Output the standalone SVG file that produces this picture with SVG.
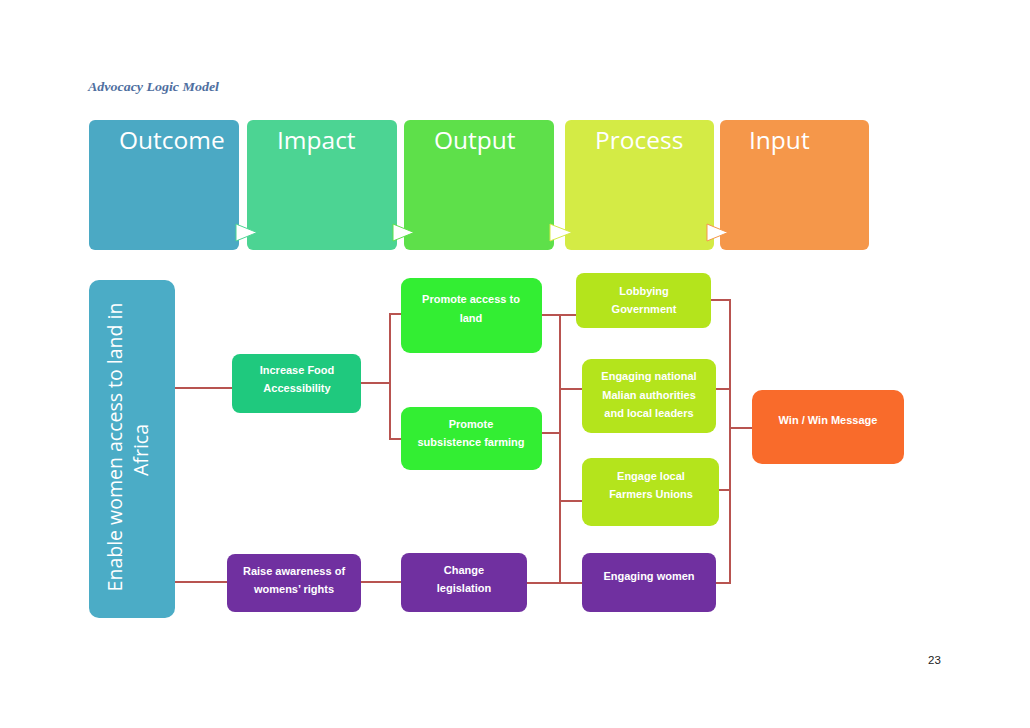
<svg xmlns="http://www.w3.org/2000/svg" width="1030" height="728" viewBox="0 0 1030 728">
<style>
.hdr{font-family:"Open Sans","DejaVu Sans",sans-serif;font-size:24.5px;fill:#fff}
.lbl{font-family:"Liberation Sans","Noto Sans",sans-serif;font-size:11px;font-weight:bold;fill:#fff;text-anchor:middle}
.con{fill:none;stroke:#B85450;stroke-width:2}
.tri{fill:#fff;stroke-width:1}
</style>
<rect width="1030" height="728" fill="#fff"/>
<text x="88" y="91" font-family="'Liberation Serif','DejaVu Serif',serif" font-size="13" font-style="italic" font-weight="bold" fill="#4F6FA0" textLength="131" lengthAdjust="spacingAndGlyphs">Advocacy Logic Model</text>

<g id="hdr-outcome"><rect x="89" y="120" width="150" height="130" rx="6" fill="#4BA9C4"/><text class="hdr" x="119" y="149">Outcome</text></g>
<g id="hdr-impact"><rect x="247" y="120" width="150" height="130" rx="6" fill="#4CD493"/><text class="hdr" x="277" y="149">Impact</text></g>
<g id="hdr-output"><rect x="404" y="120" width="150" height="130" rx="6" fill="#5EE04A"/><text class="hdr" x="434" y="149">Output</text></g>
<g id="hdr-process"><rect x="565" y="120" width="149" height="130" rx="6" fill="#D4EB45"/><text class="hdr" x="595" y="149">Process</text></g>
<g id="hdr-input"><rect x="720" y="120" width="149" height="130" rx="6" fill="#F5974A"/><text class="hdr" x="749" y="149">Input</text></g>
<g id="hdr-arrows">
<polygon class="tri" stroke="#4CD493" points="236,224 257,232.5 236,241"/>
<polygon class="tri" stroke="#5EE04A" points="393,224 414,232.5 393,241"/>
<polygon class="tri" stroke="#D4EB45" points="550,224 572,232.5 550,241"/>
<polygon class="tri" stroke="#F5974A" points="707,224 728,232.5 707,241"/>
</g>

<g id="connectors">
<line class="con" x1="175" y1="388" x2="232" y2="388"/>
<line class="con" x1="175" y1="582" x2="227" y2="582"/>
<polyline class="con" points="361,383 390,383"/>
<polyline class="con" points="401,314 390,314 390,439 401,439"/>
<line class="con" x1="361" y1="582" x2="401" y2="582"/>
<polyline class="con" points="542,315 576,315"/>
<line class="con" x1="560" y1="315" x2="560" y2="583"/>
<line class="con" x1="542" y1="433" x2="560" y2="433"/>
<line class="con" x1="560" y1="389" x2="582" y2="389"/>
<line class="con" x1="560" y1="501" x2="582" y2="501"/>
<line class="con" x1="527" y1="583" x2="582" y2="583"/>
<polyline class="con" points="711,300 730,300 730,583 716,583"/>
<line class="con" x1="716" y1="389" x2="730" y2="389"/>
<line class="con" x1="719" y1="490" x2="730" y2="490"/>
<line class="con" x1="730" y1="428" x2="752" y2="428"/>
</g>

<g id="n-enable"><rect x="89" y="280" width="86" height="338" rx="10" fill="#4BACC6"/>
<text font-family="'Open Sans','DejaVu Sans',sans-serif" font-size="19.5" fill="#fff" text-anchor="middle" transform="translate(122,447) rotate(-90)">Enable women access to land in</text>
<text font-family="'Open Sans','DejaVu Sans',sans-serif" font-size="19.5" fill="#fff" text-anchor="middle" transform="translate(148,450) rotate(-90)">Africa</text></g>

<g id="n-food"><rect x="232" y="354" width="129" height="59" rx="8" fill="#1FC97E"/><text class="lbl" x="297" y="374">Increase Food</text><text class="lbl" x="297" y="392">Accessibility</text></g>
<g id="n-raise"><rect x="227" y="554" width="134" height="58" rx="8" fill="#7030A0"/><text class="lbl" x="294" y="575">Raise awareness of</text><text class="lbl" x="294" y="593">womens’ rights</text></g>

<g id="n-land"><rect x="401" y="278" width="141" height="75" rx="9" fill="#33EE33"/><text class="lbl" x="471" y="303">Promote access to</text><text class="lbl" x="471" y="322">land</text></g>
<g id="n-farming"><rect x="401" y="407" width="141" height="63" rx="9" fill="#33EE33"/><text class="lbl" x="471" y="428">Promote</text><text class="lbl" x="471" y="446">subsistence farming</text></g>
<g id="n-legis"><rect x="401" y="553" width="126" height="59" rx="8" fill="#7030A0"/><text class="lbl" x="464" y="574">Change</text><text class="lbl" x="464" y="592">legislation</text></g>

<g id="n-lobby"><rect x="576" y="273" width="135" height="55" rx="8" fill="#B4E41C"/><text class="lbl" x="644" y="295">Lobbying</text><text class="lbl" x="644" y="313">Government</text></g>
<g id="n-national"><rect x="582" y="359" width="134" height="74" rx="9" fill="#B4E41C"/><text class="lbl" x="649" y="380">Engaging national</text><text class="lbl" x="649" y="399">Malian authorities</text><text class="lbl" x="649" y="417">and local leaders</text></g>
<g id="n-unions"><rect x="582" y="458" width="137" height="68" rx="9" fill="#B4E41C"/><text class="lbl" x="651" y="480">Engage local</text><text class="lbl" x="651" y="498">Farmers Unions</text></g>
<g id="n-women"><rect x="582" y="553" width="134" height="59" rx="8" fill="#7030A0"/><text class="lbl" x="649" y="580">Engaging women</text></g>

<g id="n-win"><rect x="752" y="390" width="152" height="74" rx="10" fill="#F96B2B"/><text class="lbl" x="828" y="424">Win / Win Message</text></g>

<text x="928" y="664" font-family="'Liberation Sans',sans-serif" font-size="11.5" fill="#222">23</text>
</svg>
